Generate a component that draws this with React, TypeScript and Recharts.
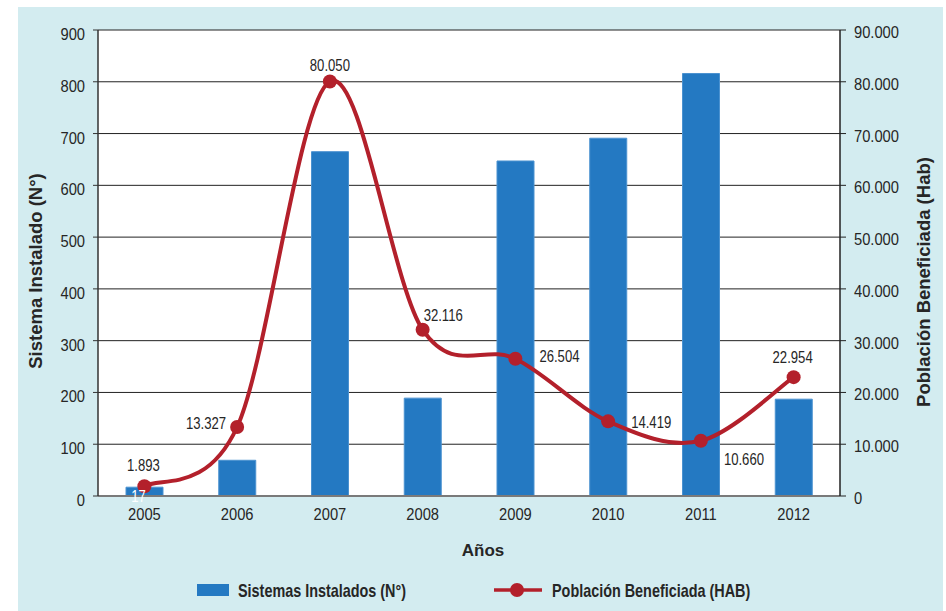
import React from "react";
import {
  ComposedChart,
  Bar,
  Line,
  XAxis,
  YAxis,
  CartesianGrid,
  LabelList,
} from "recharts";

const years = ["2005", "2006", "2007", "2008", "2009", "2010", "2011", "2012"];
const sistemas = [17, 69, 665, 189, 647, 691, 816, 187];
const poblacion = [1893, 13327, 80050, 32116, 26504, 14419, 10660, 22954];
const leftTicks = [0, 100, 200, 300, 400, 500, 600, 700, 800, 900];
const rightTicks = [0, 10000, 20000, 30000, 40000, 50000, 60000, 70000, 80000, 90000];

// where each population label sits relative to its point
const labelPlacement = [
  { dx: -1, dy: -15, anchor: "middle" },
  { dx: -11, dy: 2, anchor: "end" },
  { dx: 0, dy: -11, anchor: "middle" },
  { dx: 1, dy: -9, anchor: "start" },
  { dx: 24, dy: 3, anchor: "start" },
  { dx: 23, dy: 7, anchor: "start" },
  { dx: 23, dy: 24, anchor: "start" },
  { dx: -1, dy: -14, anchor: "middle" },
];

const data = years.map((year, i) => ({
  year,
  sistemas: sistemas[i],
  poblacion: poblacion[i],
}));

const BLUE = "#2479c2";
const RED = "#b3202b";
const TEXT = "#262626";
const SANS = "'Liberation Sans', Arial, sans-serif";

const fmt = (n: number) => n.toString().replace(/\B(?=(\d{3})+(?!\d))/g, ".");

// Excel-style smoothed line (Catmull-Rom through every point)
function smoothCurve(context: any) {
  let pts: number[][] = [];
  return {
    areaStart() {},
    areaEnd() {},
    lineStart() {
      pts = [];
    },
    lineEnd() {
      const n = pts.length;
      if (!n) return;
      context.moveTo(pts[0][0], pts[0][1]);
      for (let i = 0; i < n - 1; i++) {
        const p0 = pts[i - 1] || pts[i];
        const p1 = pts[i];
        const p2 = pts[i + 1];
        const p3 = pts[i + 2] || p2;
        context.bezierCurveTo(
          p1[0] + (p2[0] - p0[0]) / 6,
          p1[1] + (p2[1] - p0[1]) / 6,
          p2[0] - (p3[0] - p1[0]) / 6,
          p2[1] - (p3[1] - p1[1]) / 6,
          p2[0],
          p2[1]
        );
      }
    },
    point(x: number, y: number) {
      pts.push([+x, +y]);
    },
  };
}

// condensed look: squeeze the glyphs horizontally
const Narrow = ({ x, y, anchor = "start", sx = 0.82, size = 16, bold = false, fill = TEXT, children }: any) => (
  <text
    transform={`translate(${x} ${y}) scale(${sx} 1)`}
    textAnchor={anchor}
    style={{ fontFamily: SANS, fontSize: size, fontWeight: bold ? 700 : 400, fill }}
  >
    {children}
  </text>
);

const LeftTick = (props: any) => (
  <Narrow x={props.x} y={props.y + 10} anchor="end" sx={0.92} size={16}>
    {props.payload.value}
  </Narrow>
);

const RightTick = (props: any) => (
  <Narrow x={props.x} y={props.y + 8} anchor="start" sx={0.92} size={16}>
    {fmt(props.payload.value)}
  </Narrow>
);

const BottomTick = (props: any) => (
  <Narrow x={props.x} y={props.y + 12} anchor="middle" sx={0.92} size={16}>
    {props.payload.value}
  </Narrow>
);

const PopLabel = (props: any) => {
  const { x, y, value, index } = props;
  const p = labelPlacement[index];
  return (
    <Narrow x={x + p.dx} y={y + p.dy} anchor={p.anchor} sx={0.82} size={16}>
      {fmt(value)}
    </Narrow>
  );
};

const BarValueLabel = (props: any) => {
  const { x, y, width, value, index } = props;
  if (index !== 0) return null;
  return (
    <Narrow x={x + width / 2 - 6} y={y + 15} anchor="middle" sx={0.82} size={16} fill="#ffffff">
      {value}
    </Narrow>
  );
};

const titleStyle = { fontFamily: SANS, fontSize: 18.5, fontWeight: 700, fill: TEXT };

const LeftTitle = (props: any) => {
  const vb = props.viewBox;
  const cx = vb.x + 7;
  const cy = vb.y + vb.height / 2 + 8;
  return (
    <text
      x={cx}
      y={cy}
      transform={`rotate(-90 ${cx} ${cy})`}
      textAnchor="middle"
      dominantBaseline="central"
      style={titleStyle}
    >
      Sistema Instalado (N°)
    </text>
  );
};

const RightTitle = (props: any) => {
  const vb = props.viewBox;
  const cx = vb.x + 83;
  const cy = vb.y + vb.height / 2 + 19;
  return (
    <text
      x={cx}
      y={cy}
      transform={`rotate(-90 ${cx} ${cy})`}
      textAnchor="middle"
      dominantBaseline="central"
      style={titleStyle}
    >
      Población Beneficiada (Hab)
    </text>
  );
};

const BottomTitle = (props: any) => {
  const vb = props.viewBox;
  return (
    <text
      x={vb.x + vb.width / 2 + 14}
      y={vb.y + 60}
      textAnchor="middle"
      style={{ ...titleStyle, fontSize: 17 }}
    >
      Años
    </text>
  );
};

export default function App() {
  return (
    <div style={{ position: "absolute", left: 0, top: 0, width: 946, height: 611, background: "#ffffff" }}>
      <div style={{ position: "absolute", left: 18, top: 7, width: 925, height: 604, background: "#d3ecf0" }} />
      <div style={{ position: "absolute", left: 0, top: 0 }}>
        <ComposedChart
          width={946}
          height={611}
          data={data}
          margin={{ top: 30, right: 36, left: 28, bottom: 45 }}
          barCategoryGap="30%"
        >
          <CartesianGrid
            vertical={false}
            fill="#ffffff"
            stroke="#222222"
            strokeWidth={1}
            yAxisId="left"
          />
          <XAxis
            dataKey="year"
            height={70}
            tickLine={false}
            tickSize={6}
            tickMargin={6}
            axisLine={{ stroke: "#7a7a7a", strokeWidth: 2 }}
            tick={<BottomTick />}
            label={<BottomTitle />}
            interval={0}
          />
          <YAxis
            yAxisId="left"
            orientation="left"
            width={70}
            domain={[0, 900]}
            ticks={leftTicks}
            interval={0}
            tickSize={5}
            tickMargin={8}
            tickLine={{ stroke: "#333333" }}
            axisLine={{ stroke: "#333333", strokeWidth: 1.5 }}
            tick={<LeftTick />}
            label={<LeftTitle />}
          />
          <YAxis
            yAxisId="right"
            orientation="right"
            width={70}
            domain={[0, 90000]}
            ticks={rightTicks}
            interval={0}
            tickSize={6}
            tickMargin={8}
            tickLine={{ stroke: "#222222" }}
            axisLine={{ stroke: "#222222", strokeWidth: 1.5 }}
            tick={<RightTick />}
            label={<RightTitle />}
          />
          <Bar
            yAxisId="left"
            dataKey="sistemas"
            fill={BLUE}
            stroke="#4b92d0"
            strokeWidth={1}
            barSize={37}
            isAnimationActive={false}
          >
            <LabelList dataKey="sistemas" content={<BarValueLabel />} />
          </Bar>
          <Line
            yAxisId="right"
            dataKey="poblacion"
            type={smoothCurve as any}
            stroke={RED}
            strokeWidth={4}
            dot={{ r: 7, fill: RED, stroke: RED, strokeWidth: 0 }}
            activeDot={false}
            isAnimationActive={false}
          >
            <LabelList dataKey="poblacion" content={<PopLabel />} />
          </Line>
        </ComposedChart>
      </div>
      <svg style={{ position: "absolute", left: 0, top: 570 }} width={946} height={40}>
        <rect x={197} y={14} width={32} height={12} fill={BLUE} />
        <Narrow x={238} y={27} size={18} sx={0.8} bold>
          Sistemas Instalados (N°)
        </Narrow>
        <line x1={494} y1={20} x2={542} y2={20} stroke={RED} strokeWidth={3.5} />
        <circle cx={517} cy={20} r={7} fill={RED} />
        <Narrow x={552} y={27} size={18} sx={0.8} bold>
          Población Beneficiada (HAB)
        </Narrow>
      </svg>
    </div>
  );
}
